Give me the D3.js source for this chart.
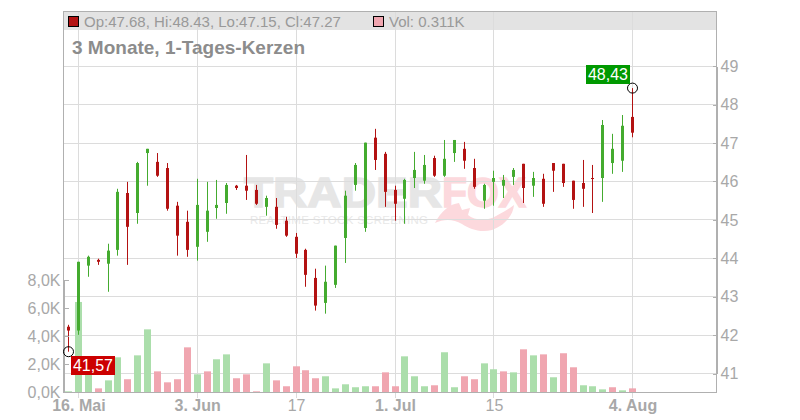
<!DOCTYPE html>
<html lang="de">
<head>
    <meta charset="UTF-8">
    <title>3 Monate, 1-Tages-Kerzen</title>
    <script src="https://d3js.org/d3.v7.min.js"></script>
    <style>
        html, body { margin: 0; padding: 0; background: #fff; }
        svg { display: block; font-family: "Liberation Sans", Arial, sans-serif; }
        .axis text { fill: #a8a8a8; font-size: 16px; }
        .axis path, .axis line { stroke: #b0b0b0; shape-rendering: crispEdges; }
        .grid line { stroke: #dcdcdc; stroke-width: 1px; shape-rendering: crispEdges; }
    </style>
</head>
<body>
<svg width="800" height="420"></svg>
<script>
    var opens = [42.22,42.12,43.81,43.96,43.86,44.22,45.70,45.18,46.74,46.51,46.35,45.37,44.95,44.30,44.69,45.31,45.44,45.89,45.89,45.78,45.34,45.34,44.98,44.56,44.22,43.49,42.84,43.31,44.53,45.91,44.79,47.14,46.72,45.78,45.55,46.09,46.02,46.61,46.15,46.74,46.85,46.35,45.50,45.99,45.89,46.12,46.46,45.89,46.07,46.48,46.46,46.02,45.96,46.09,46.09,46.48,46.54,47.68];
    var highs = [42.27,43.91,44.07,43.99,44.38,45.81,45.99,46.51,46.85,46.74,46.48,45.47,45.24,46.07,45.99,46.04,45.96,45.91,46.69,45.91,45.63,45.57,45.08,44.66,44.25,43.73,43.81,44.33,45.76,46.48,47.01,47.37,46.77,45.89,46.07,46.77,46.69,46.67,47.08,47.08,47.03,46.59,45.94,46.28,46.17,46.35,46.46,46.25,46.20,46.48,46.46,46.02,46.56,46.43,47.60,47.24,47.73,48.43];
    var lows = [41.57,42.01,43.52,43.83,43.13,44.07,43.83,44.90,45.89,46.12,45.24,44.07,44.04,43.94,44.43,45.03,45.16,45.78,45.52,45.39,45.11,44.77,44.56,44.01,43.26,42.64,42.56,43.23,43.88,45.76,44.69,46.30,45.34,44.98,44.90,45.83,45.94,46.12,46.12,46.51,46.33,45.81,45.29,45.37,45.57,45.91,45.44,45.60,45.34,45.73,45.86,45.29,45.34,45.18,45.47,46.20,46.25,47.15];
    var closes = [42.12,43.91,44.04,43.91,44.20,45.73,44.82,46.48,46.85,46.15,45.29,44.59,44.22,45.39,45.24,45.39,45.91,45.83,45.76,45.42,45.57,44.87,44.59,44.12,43.57,42.77,43.39,44.33,45.63,46.43,47.01,46.56,45.73,45.42,46.04,46.30,46.43,46.15,46.59,47.08,46.54,45.86,45.91,46.09,46.04,46.30,45.83,46.09,45.42,46.28,45.96,45.52,45.81,46.07,47.47,46.85,47.45,47.27];
    var volumes = [0.07,6.43,2.0,0.28,0.85,2.49,0.93,2.63,4.48,1.49,0.71,0.93,3.2,1.28,1.49,2.35,2.7,1.0,1.28,0.07,2.06,0.85,0.43,1.85,1.57,1.0,1.14,0.28,0.57,0.36,0.43,0.43,1.42,0.43,2.56,1.14,0.43,0.5,2.85,0.36,1.14,0.93,2.06,1.64,1.49,1.42,3.06,2.63,2.7,1.07,2.78,1.78,0.5,0.43,0.21,0.36,0.14,0.28];

    var priceTicks = [41,42,43,44,45,46,47,48,49];
    var volumeTicks = [0,2,4,6,8];
    var dateTicks = [1,13,23,33,43,57];
    var dateLabels = ["16. Mai","3. Jun","17","1. Jul","15","4. Aug"];
    var boldDates = ["16. Mai","3. Jun","1. Jul","4. Aug"];

    var plot = {left: 63.5, right: 716.5, top: 11.5, bottom: 392.5};
    var upColor = "#44ab2f", downColor = "#b31212";
    var upVol = "#abdeab", downVol = "#f0a6b0";
    var foxPink = "#fcd9dd";

    var svg = d3.select("svg");

    var x = d3.scaleLinear().domain([0, 57]).range([68.5, 632.5]);
    var y = d3.scaleLinear().domain([41, 49]).range([373.6, 66.2]);
    var yVol = d3.scaleLinear().domain([0, 8]).range([392.3, 279.9]);

    // header band
    svg.append("rect")
        .attr("x", plot.left).attr("y", plot.top)
        .attr("width", plot.right - plot.left).attr("height", 18.5)
        .attr("fill", "#e3e3e3");

    // watermark
    var mark = svg.append("g");
    mark.append("text").attr("x", 244).attr("y", 207)
        .attr("font-size", 42).attr("font-weight", "bold")
        .attr("textLength", 198).attr("lengthAdjust", "spacingAndGlyphs")
        .attr("fill", "#e6e6e6").attr("stroke", "#e6e6e6").attr("stroke-width", 1.5)
        .text("TRADER");
    mark.append("text").attr("x", 442).attr("y", 207)
        .attr("font-size", 42).attr("font-weight", "bold")
        .attr("textLength", 84).attr("lengthAdjust", "spacingAndGlyphs")
        .attr("fill", foxPink).attr("stroke", foxPink).attr("stroke-width", 1.5)
        .text("FOX");
    mark.append("text").attr("x", 250).attr("y", 224)
        .attr("font-size", 11.5)
        .attr("textLength", 178)
        .attr("fill", "#e8e8e8").text("REALTIME STOCK SCREENING");
    mark.append("path")
        .attr("d", "M435 223 C441 211 450 204 459 203 L462 210 L470 208 L468 215 C474 220 486 222 496 216 C504 212 510 208 514 205 C513 216 504 226 492 230 C480 233 470 229 462 224 C453 219 444 219 435 223 Z")
        .attr("fill", foxPink);

    // grid
    var grid = svg.append("g").attr("class", "grid");
    grid.selectAll(".h").data(priceTicks).enter().append("line")
        .attr("x1", plot.left).attr("x2", plot.right)
        .attr("y1", function(d) { return y(d); })
        .attr("y2", function(d) { return y(d); });
    grid.selectAll(".v").data(dateTicks).enter().append("line")
        .attr("x1", function(d) { return x(d); })
        .attr("x2", function(d) { return x(d); })
        .attr("y1", plot.top).attr("y2", 398);

    // volume bars, coloured against the previous close
    svg.append("g").selectAll("rect").data(volumes).enter().append("rect")
        .attr("x", function(d, i) { return Math.floor(x(i)) - 3; })
        .attr("width", 7)
        .attr("y", function(d) { return yVol(d); })
        .attr("height", function(d) { return yVol(0) - yVol(d); })
        .attr("fill", function(d, i) { return i == 0 || closes[i] >= closes[i - 1] ? upVol : downVol; });

    // candles
    var candles = svg.append("g").selectAll("g").data(opens).enter().append("g");
    candles.append("rect")
        .attr("x", function(d, i) { return Math.floor(x(i)); })
        .attr("width", 1)
        .attr("y", function(d, i) { return y(highs[i]); })
        .attr("height", function(d, i) { return y(lows[i]) - y(highs[i]); })
        .attr("fill", function(d, i) { return closes[i] >= d ? upColor : downColor; });
    candles.append("rect")
        .attr("x", function(d, i) { return Math.floor(x(i)) - 1; })
        .attr("width", 3)
        .attr("y", function(d, i) { return y(Math.max(d, closes[i])); })
        .attr("height", function(d, i) { return Math.max(1, Math.abs(y(d) - y(closes[i]))); })
        .attr("fill", function(d, i) { return closes[i] >= d ? upColor : downColor; });

    // axes
    var priceAxis = d3.axisRight(y).tickValues(priceTicks).tickSizeInner(-4).tickSizeOuter(0).tickPadding(4);
    svg.append("g").attr("class", "axis").attr("transform", "translate(" + plot.right + ",0)").call(priceAxis);

    var volAxis = d3.axisLeft(yVol).tickValues(volumeTicks).tickSizeInner(-5).tickSizeOuter(0).tickPadding(3)
        .tickFormat(function(d) { return d3.format(".1f")(d).replace(".", ",") + "K"; });
    svg.append("g").attr("class", "axis").attr("transform", "translate(" + plot.left + ",0)").call(volAxis);

    var dateAxis = d3.axisBottom(x).tickValues(dateTicks).tickSize(0).tickPadding(7)
        .tickFormat(function(d, i) { return dateLabels[i]; });
    var dateG = svg.append("g").attr("class", "axis").attr("transform", "translate(0," + plot.bottom + ")").call(dateAxis);
    dateG.select(".domain").remove();
    dateG.selectAll("text")
        .style("font-weight", function(d, i) { return boldDates.indexOf(dateLabels[i]) >= 0 ? "bold" : "normal"; });

    // frame
    svg.append("path")
        .attr("d", "M" + plot.left + " " + plot.bottom + "V" + plot.top + "H" + plot.right + "V" + plot.bottom + "H" + plot.left)
        .attr("fill", "none").attr("stroke", "#b0b0b0").attr("shape-rendering", "crispEdges");

    // header
    svg.append("rect").attr("x", 68.5).attr("y", 16.5).attr("width", 10).attr("height", 10)
        .attr("fill", downColor).attr("stroke", "#000").attr("shape-rendering", "crispEdges");
    svg.append("text").attr("x", 84).attr("y", 27).attr("font-size", 15).attr("fill", "#999")
        .text("Op:47.68, Hi:48.43, Lo:47.15, Cl:47.27");
    svg.append("rect").attr("x", 373.5).attr("y", 16.5).attr("width", 10).attr("height", 10)
        .attr("fill", downVol).attr("stroke", "#000").attr("shape-rendering", "crispEdges");
    svg.append("text").attr("x", 389).attr("y", 27).attr("font-size", 15).attr("fill", "#999")
        .text("Vol: 0.311K");
    svg.append("text").attr("x", 72).attr("y", 54).attr("font-size", 19).attr("font-weight", "bold").attr("fill", "#8c8c8c")
        .text("3 Monate, 1-Tages-Kerzen");

    // high and low markers
    var extremes = [
        {i: 57, value: highs[57], fill: "#009900", bx: 586, by: 65},
        {i: 0, value: lows[0], fill: "#cc0000", bx: 71, by: 356}
    ];
    extremes.forEach(function(d) {
        svg.append("circle")
            .attr("cx", x(d.i)).attr("cy", y(d.value)).attr("r", 5)
            .attr("fill", "none").attr("stroke", "#000");
        svg.append("rect").attr("x", d.bx).attr("y", d.by).attr("width", 44).attr("height", 19).attr("fill", d.fill);
        svg.append("text").attr("x", d.bx + 22).attr("y", d.by + 15).attr("text-anchor", "middle")
            .attr("font-size", 16).attr("fill", "#fff")
            .text(d3.format(".2f")(d.value).replace(".", ","));
    });
</script>
</body>
</html>
